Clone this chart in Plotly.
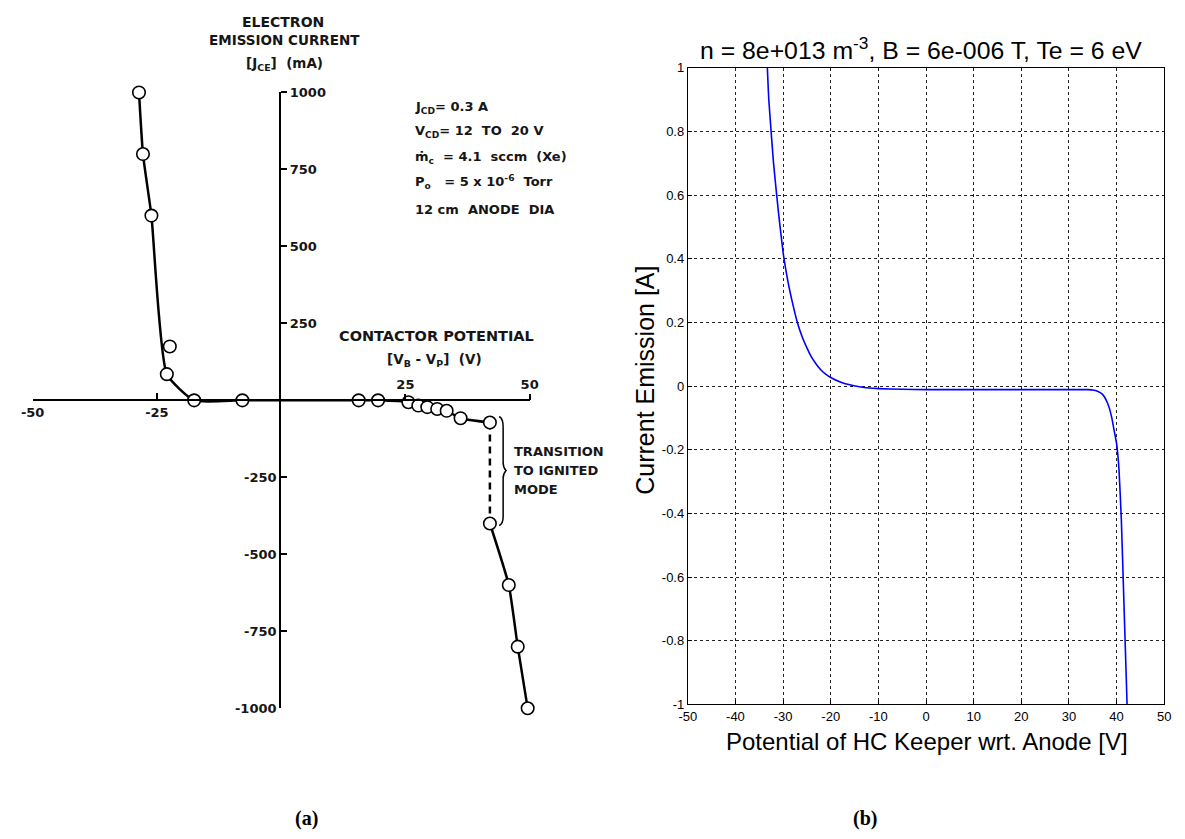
import plotly.graph_objects as go

W, H = 1185, 839

# ---------------- panel (a): measured data ----------------
# contactor potential VB - VP (V) and electron emission current JCE (mA)
a_pts_v = [-28.6, -27.8, -26.1, -22.4, -23.0, -17.5, -7.8,
           15.6, 19.5, 25.6, 27.6, 29.4, 31.4, 33.3, 36.1, 42.0,
           42.0, 45.8, 47.6, 49.6]
a_pts_i = [1000, 800, 600, 175, 85, 0, 0,
           0, 0, -6, -17, -22, -28, -34, -58, -72,
           -400, -600, -800, -1000]
# faired curve (diffuse mode)
a_fit_v = [-28.6, -27.8, -26.1, -23.0, -17.5, -7.8, 15.6, 19.5, 25.6, 27.6, 29.4, 31.4, 33.3, 36.1, 42.0]
a_fit_i = [1000, 800, 600, 85, 0, 0, 0, 0, -6, -17, -22, -28, -34, -58, -72]
# transition to ignited mode (dashed)
a_trans_v = [42.0, 42.0]
a_trans_i = [-72, -400]
# ignited mode
a_ign_v = [42.0, 45.8, 47.6, 49.6]
a_ign_i = [-400, -600, -800, -1000]

a_xtick_neg = [-50, -25]
a_xtick_pos = [25, 50]
a_ytick_neg = [-250, -500, -750, -1000]
a_ytick_pos = [250, 500, 750, 1000]

# ---------------- panel (b): simulated curve ----------------
b_v = [-33.3, -33.0, -32.0, -31.0, -30.0, -29.0, -28.0, -27.0, -26.0, -25.0, -24.0,
       -23.0, -22.0, -21.0, -20.0, -18.0, -16.0, -14.0, -12.0, -10.0, -5.0, 0.0,
       10.0, 20.0, 30.0, 34.0, 35.0, 36.0, 37.0, 37.5, 38.0, 38.5, 39.0, 39.5,
       40.0, 40.5, 41.0, 41.5, 42.0, 42.2]
b_i = [1.0, 0.9, 0.7, 0.55, 0.42, 0.33, 0.26, 0.2, 0.155, 0.12, 0.09,
       0.068, 0.05, 0.037, 0.027, 0.013, 0.004, -0.002, -0.006, -0.008, -0.01, -0.011,
       -0.011, -0.011, -0.011, -0.011, -0.012, -0.016, -0.025, -0.035, -0.05, -0.07, -0.1, -0.14,
       -0.18, -0.26, -0.42, -0.66, -0.9, -1.0]
b_xticks = [-50, -40, -30, -20, -10, 0, 10, 20, 30, 40, 50]
b_yticks = [-1, -0.8, -0.6, -0.4, -0.2, 0, 0.2, 0.4, 0.6, 0.8, 1]
b_yticktext = ["-1", "-0.8", "-0.6", "-0.4", "-0.2", "0", "0.2", "0.4", "0.6", "0.8", "1"]


def px(x):
    return x / W


def py(y):
    return 1 - y / H


fig = go.Figure()

# panel (a) lines
fig.add_trace(go.Scatter(x=a_fit_v, y=a_fit_i, mode="lines", xaxis="x", yaxis="y",
                         line=dict(color="black", width=2.5, shape="spline", smoothing=0.5),
                         cliponaxis=False, hoverinfo="skip"))
fig.add_trace(go.Scatter(x=a_trans_v, y=a_trans_i, mode="lines", xaxis="x", yaxis="y",
                         line=dict(color="black", width=2.5, dash="7px,5px"),
                         cliponaxis=False, hoverinfo="skip"))
fig.add_trace(go.Scatter(x=a_ign_v, y=a_ign_i, mode="lines", xaxis="x", yaxis="y",
                         line=dict(color="black", width=2.5, shape="spline", smoothing=0.5),
                         cliponaxis=False, hoverinfo="skip"))
# panel (a) points (drawn on the overlay axes so they sit above the lines)
fig.add_trace(go.Scatter(x=a_pts_v, y=a_pts_i, mode="markers", xaxis="x3", yaxis="y3",
                         marker=dict(symbol="circle", size=12.5, color="white",
                                     line=dict(color="black", width=1.6)),
                         cliponaxis=False, hoverinfo="skip"))
# panel (b) curve
fig.add_trace(go.Scatter(x=b_v, y=b_i, mode="lines", xaxis="x2", yaxis="y2",
                         line=dict(color="#0000ff", width=1.6, shape="spline", smoothing=0.4),
                         hoverinfo="skip"))

fa = dict(family="DejaVu Sans", size=13, color="#161616", weight="bold")
fb = dict(family="Liberation Sans, Arial", size=13, color="black")

a_x_dom = [px(21), px(527)]
a_y_dom = [py(714), py(87)]
a_x_pos = py(400.5)
a_y_pos = px(273)

common_a = dict(showgrid=False, zeroline=False, tickcolor="black", tickwidth=2, ticklen=6,
                tickfont=fa, fixedrange=True)

fig.update_layout(
    width=W, height=H,
    margin=dict(l=0, r=0, t=0, b=0),
    paper_bgcolor="white", plot_bgcolor="white",
    showlegend=False,
    xaxis=dict(domain=a_x_dom, range=[-50, 50], anchor="free", position=a_x_pos, side="bottom",
               showline=True, linecolor="black", linewidth=2, ticks="inside",
               tickvals=a_xtick_neg, ticktext=[str(v) for v in a_xtick_neg], **common_a),
    xaxis3=dict(overlaying="x", range=[-50, 50], anchor="free", position=a_x_pos, side="top",
                showline=False, ticks="outside",
                tickvals=a_xtick_pos, ticktext=[str(v) for v in a_xtick_pos], **common_a),
    yaxis=dict(domain=a_y_dom, range=[-1000, 1000], anchor="free", position=a_y_pos, side="left",
               showline=True, linecolor="black", linewidth=2, ticks="inside",
               tickvals=a_ytick_neg, ticktext=[str(v) for v in a_ytick_neg], **common_a),
    yaxis3=dict(overlaying="y", range=[-1000, 1000], anchor="free", position=a_y_pos, side="right",
                showline=False, ticks="outside",
                tickvals=a_ytick_pos, ticktext=[str(v) for v in a_ytick_pos], **common_a),
    xaxis2=dict(domain=[px(688), px(1173)], range=[-50, 50], anchor="y2",
                showline=True, mirror=True, linecolor="black", linewidth=1,
                ticks="inside", ticklen=4, tickcolor="black",
                tickvals=b_xticks, ticktext=[str(v) for v in b_xticks], tickfont=fb,
                showgrid=True, gridcolor="#222", gridwidth=1, griddash="3px,3px",
                zeroline=False, fixedrange=True),
    yaxis2=dict(domain=[py(710), py(62)], range=[-1, 1], anchor="x2",
                showline=True, mirror=True, linecolor="black", linewidth=1,
                ticks="inside", ticklen=4, tickcolor="black",
                tickvals=b_yticks, ticktext=b_yticktext, tickfont=fb,
                showgrid=True, gridcolor="#222", gridwidth=1, griddash="3px,3px",
                zeroline=False, fixedrange=True),
)

ann = []


def text(x, y, s, size=13, xanchor="center", font=None, bold=True, **kw):
    f = dict(family="DejaVu Sans", color="#161616")
    f["size"] = size
    if font:
        f.update(font)
    ann.append(dict(x=px(x), y=py(y), xref="paper", yref="paper", text=("<b>%s</b>" % s) if bold else s,
                    showarrow=False, xanchor=xanchor, yanchor="middle", font=f, **kw))


# panel (a) labels
text(276, 15, "ELECTRON", size=14)
text(277, 34, "EMISSION CURRENT", size=13.5)
text(277, 58, "[J<sub>CE</sub>]  (mA)", size=13.5)
text(432, 335, "CONTACTOR POTENTIAL", size=14.5)
text(430, 359, "[V<sub>B</sub> - V<sub>P</sub>]  (V)", size=13.5)
params = ["J<sub>CD</sub>= 0.3 A",
          "V<sub>CD</sub>= 12  TO  20 V",
          "ṁ<sub>c</sub>  = 4.1  sccm  (Xe)",
          "P<sub>o</sub>   = 5 x 10<sup>-6</sup>  Torr",
          "12 cm  ANODE  DIA"]
for s, yy in zip(params, [102, 127, 153, 178, 206]):
    text(408, yy, s, xanchor="left")
for s, yy in zip(["TRANSITION", "TO IGNITED", "MODE"], [453, 472, 491]):
    text(509, yy, s, xanchor="left")

# panel (b) labels
fb_big = dict(family="Liberation Sans, Arial", color="black")
text(925, 42, "n = 8e+013 m<sup>-3</sup>, B = 6e-006 T, Te = 6 eV", size=24.8, font=fb_big, bold=False)
text(932, 748, "Potential of HC Keeper wrt. Anode [V]", size=24, font=fb_big, bold=False)
text(645, 380, "Current Emission [A]", size=25, font=fb_big, bold=False, textangle=-90)

# captions
cap = dict(family="Liberation Serif, Times New Roman", color="black")
text(300, 826, "(a)", size=20, font=cap)
text(868, 826, "(b)", size=20, font=cap)

fig.update_layout(annotations=ann)

# brace for the transition
bp = [(496, 417), (500, 419), (500, 428), (500, 464), (500, 469), (503, 472), (500, 475),
      (500, 480), (500, 519), (500, 526), (496, 528)]
path = "M {0},{1} Q {2},{3} {4},{5} L {6},{7} Q {8},{9} {10},{11} Q {12},{13} {14},{15} L {16},{17} Q {18},{19} {20},{21}".format(
    *[v for (x, y) in bp for v in (px(x), py(y))])
fig.add_shape(type="path", path=path, xref="paper", yref="paper",
              line=dict(color="black", width=1.5))

fig.write_html("out.html")
